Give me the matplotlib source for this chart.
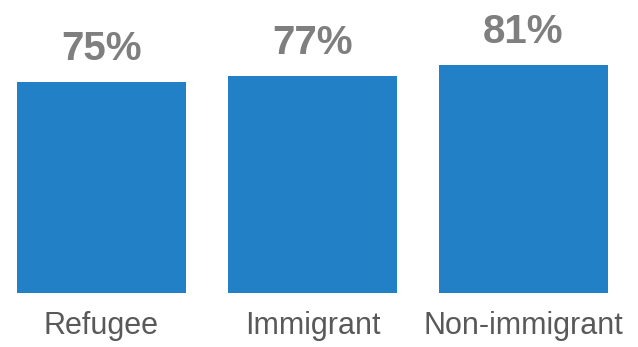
import matplotlib
matplotlib.use("Agg")
import matplotlib.pyplot as plt

categories = ["Refugee", "Immigrant", "Non-immigrant"]
values = [75, 77, 81]
labels = ["75%", "77%", "81%"]

W, H, DPI = 638, 347, 100
fig = plt.figure(figsize=(W / DPI, H / DPI), dpi=DPI)
plt.rcParams['font.family'] = ['Liberation Sans', 'DejaVu Sans']

ax = fig.add_axes([0, (H - 293) / H, 1, 293 / H])
x = list(range(len(categories)))
ax.bar(x, values, width=0.8, color="#2281C6")
unit = 211.0
ax.set_xlim(-101.5 / unit, (W - 101.5) / unit)
ax.set_ylim(0, 293 / 2.813)
for xi, v, lab in zip(x, values, labels):
    ax.annotate(lab, (xi, v), xytext=(0, 22 * 72 / DPI), textcoords="offset points",
                ha="center", va="baseline", fontsize=29, fontweight="bold", color="#7F7F7F")
ax.set_xticks(x)
ax.set_xticklabels(categories, fontsize=22, color="#595959")
ax.tick_params(axis="x", length=0, pad=13)
ax.set_yticks([])
for s in ax.spines.values():
    s.set_visible(False)

fig.savefig("out.png", dpi=DPI)
